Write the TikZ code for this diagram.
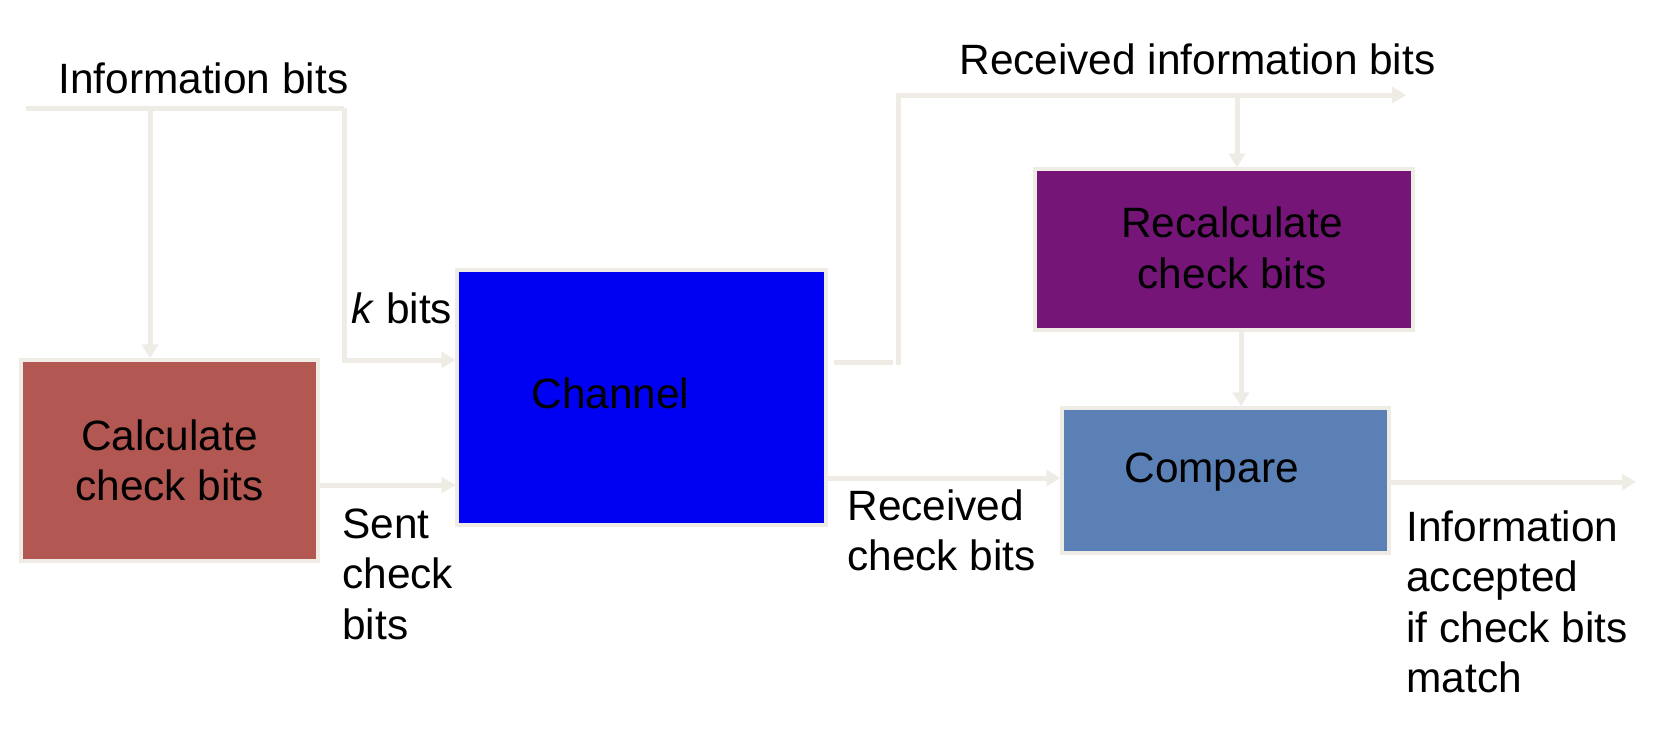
\documentclass[tikz,border=0pt]{standalone}
\usepackage{fontspec}
\setmainfont{Liberation Sans}
\usetikzlibrary{arrows.meta}
\definecolor{linec}{HTML}{EEECE4}
\definecolor{calcc}{HTML}{B25752}
\definecolor{chanc}{HTML}{0000F2}
\definecolor{recc}{HTML}{741577}
\definecolor{compc}{HTML}{5B80B5}
\tikzset{
  box/.style={draw=linec, line width=1.6pt, inner sep=0pt, align=center, font=\fontsize{21.2}{25}\selectfont},
  lbl/.style={inner sep=0pt, align=left, font=\fontsize{21.2}{25.3}\selectfont},
  conn/.style={draw=linec, line width=2.5pt},
  arr/.style={conn, -{Triangle[length=7pt,width=8pt]}},
}
\begin{document}
\begin{tikzpicture}[x=0.5pt,y=-0.5pt]
\useasboundingbox (0,0) rectangle (1660,750);
% boxes
\node[box, fill=calcc, minimum width=148.5pt, minimum height=100.5pt] (calc) at (169.5,460.5) {Calculate\\check bits};
\node[box, fill=chanc, minimum width=184.5pt, minimum height=127.5pt] (chan) at (641.5,397.5) {};
\node[box, fill=recc, minimum width=189pt, minimum height=80.5pt] (recalc) at (1224,249.5) {};
\node[box, fill=compc, minimum width=163.5pt, minimum height=72.5pt] (comp) at (1225.5,480.5) {};
\node[lbl, align=center] (rectxt) at (1232,248) {Recalculate\\check bits};
\node[lbl, anchor=base west] (chantxt) at (531,408) {Channel};
\node[lbl, anchor=base west] (comptxt) at (1124,482) {Compare};
% labels
\node[lbl, anchor=base west] (infotxt) at (58,93) {Information bits};
\node[lbl, anchor=base west] (ktxt) at (351,323) {\textit{k} bits};
\node[lbl, anchor=base west] (rinfotxt) at (959,74) {Received information bits};
\node[lbl, anchor=north west] (senttxt) at (342,508) {Sent\\check\\bits};
\node[lbl, anchor=north west] (rchecktxt) at (847,489) {Received\\check bits};
\node[lbl, anchor=north west] (acctxt) at (1406,510) {Information\\accepted\\if check bits\\match};
% coordinates
\coordinate (infoL) at (26,108);
\coordinate (infoR) at (344,108);
\coordinate (tapA) at (150,108);
\coordinate (kin) at (457,360);
\coordinate (sentin) at (318,485);
\coordinate (chout) at (834,362);
\coordinate (choutE) at (893,362);
\coordinate (riB) at (898,365);
\coordinate (riT) at (898,95);
\coordinate (riEnd) at (1406,95);
\coordinate (tapB) at (1237,95);
\coordinate (rcout) at (826,478);
\coordinate (accEnd) at (1636,482);
% connectors
\draw[conn] (infoL) -- (infoR);
\draw[arr] (tapA) -- (tapA |- calc.north);
\draw[arr] (infoR) |- (kin -| chan.west);
\draw[arr] (sentin -| calc.east) -- (sentin -| chan.west);
\draw[conn] (chout) -- (choutE);
\draw[arr] (riB) -- (riT) -- (riEnd);
\draw[arr] (tapB) -- (tapB |- recalc.north);
\draw[arr] ([xshift=8.5pt]recalc.south) -- ([xshift=8.5pt]recalc.south |- comp.north);
\draw[arr] (rcout -| chan.east) -- (rcout -| comp.west);
\draw[arr] (accEnd -| comp.east) -- (accEnd);
\end{tikzpicture}
\end{document}
